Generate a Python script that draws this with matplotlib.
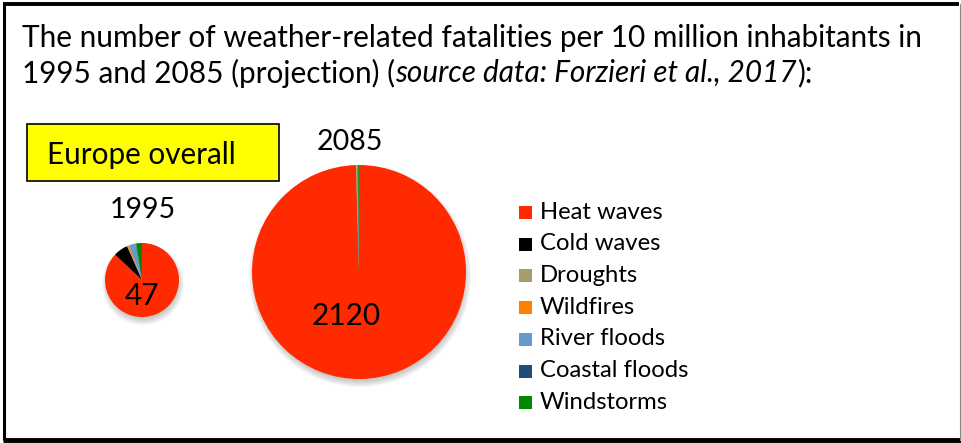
import matplotlib
matplotlib.use("Agg")
import matplotlib.pyplot as plt
from matplotlib.patches import Circle, Rectangle

plt.rcParams['font.family'] = ['Lato', 'DejaVu Sans']

# fatalities per 10 million inhabitants, by hazard
hazards = ['Heat waves', 'Cold waves', 'Droughts', 'Wildfires',
           'River floods', 'Coastal floods', 'Windstorms']
colors = ['#ff2a00', '#000000', '#a59d6a', '#ff8000',
          '#6699cc', '#1f4e79', '#008a00']
vals_1995 = [40.9, 3.0, 0.2, 0.3, 1.3, 0.1, 1.2]
vals_2085 = [2110, 0.3, 1.5, 1.0, 3.0, 1.5, 2.7]
total_1995 = 47
total_2085 = 2120

W, H = 961, 443
fig = plt.figure(figsize=(W / 100, H / 100), dpi=100)
ax = fig.add_axes([0, 0, 1, 1])


def Y(y):
    # pixel row -> data y (axis runs upward)
    return H - y


def draw_pie(values, cx, cy, r):
    # soft shadow under the pie
    for k in range(8):
        ax.add_patch(Circle((cx + 1, Y(cy) - 4), r + 4 - k, color='#606060',
                            alpha=0.05, lw=0, zorder=1))
    ax.pie(values, colors=colors, center=(cx, Y(cy)), radius=r,
           startangle=90, counterclock=False, frame=True,
           wedgeprops=dict(linewidth=0, zorder=2))


draw_pie(vals_1995, 142, 280, 37)
draw_pie(vals_2085, 359, 272, 107)

ax.set_xlim(0, W)
ax.set_ylim(0, H)
ax.set_aspect('auto')
ax.axis('off')

ax.text(142, Y(296), str(total_1995), fontsize=21.5, ha='center', va='center', zorder=5)
ax.text(346, Y(316), str(total_2085), fontsize=21.5, ha='center', va='center', zorder=5)
ax.text(143, Y(210), '1995', fontsize=20.5, ha='center', va='center')
ax.text(350, Y(142), '2085', fontsize=20.5, ha='center', va='center')

# yellow label box
ax.add_patch(Rectangle((27, Y(181)), 252, 57, facecolor='#ffff00',
                       edgecolor='black', lw=1.2))
ax.text(47, Y(155), 'Europe overall', fontsize=21.3, va='center')

# title, second line mixes upright and italic pieces
ax.text(22, Y(38), 'The number of weather-related fatalities per 10 million inhabitants in',
        fontsize=21.4, va='center')
renderer = fig.canvas.get_renderer()
x = 22
for piece, style in [('1995 and 2085 (projection) (', 'normal'),
                     ('source data: Forzieri et al., 2017', 'italic'),
                     ('):', 'normal')]:
    t = ax.text(x, Y(73), piece, fontsize=21.4, va='center', style=style)
    bb = t.get_window_extent(renderer)
    x += bb.width

# legend
for i, (name, c) in enumerate(zip(hazards, colors)):
    yy = 212 + i * 31.7
    ax.add_patch(Rectangle((519, Y(yy + 7)), 13, 13, facecolor=c, lw=0))
    ax.text(540, Y(yy), name, fontsize=17.2, va='center')

# frame around the whole panel
ax.plot([4, 4], [Y(4), Y(440)], color='black', lw=2.2, solid_capstyle='butt')
ax.plot([3, 959], [Y(4), Y(4)], color='black', lw=2.8, solid_capstyle='butt')
ax.plot([3, 961], [Y(440), Y(440)], color='black', lw=3.5, solid_capstyle='butt')
ax.plot([959.5, 959.5], [Y(4), Y(440)], color='#888888', lw=0.8)

plt.savefig('out.png', dpi=100)
